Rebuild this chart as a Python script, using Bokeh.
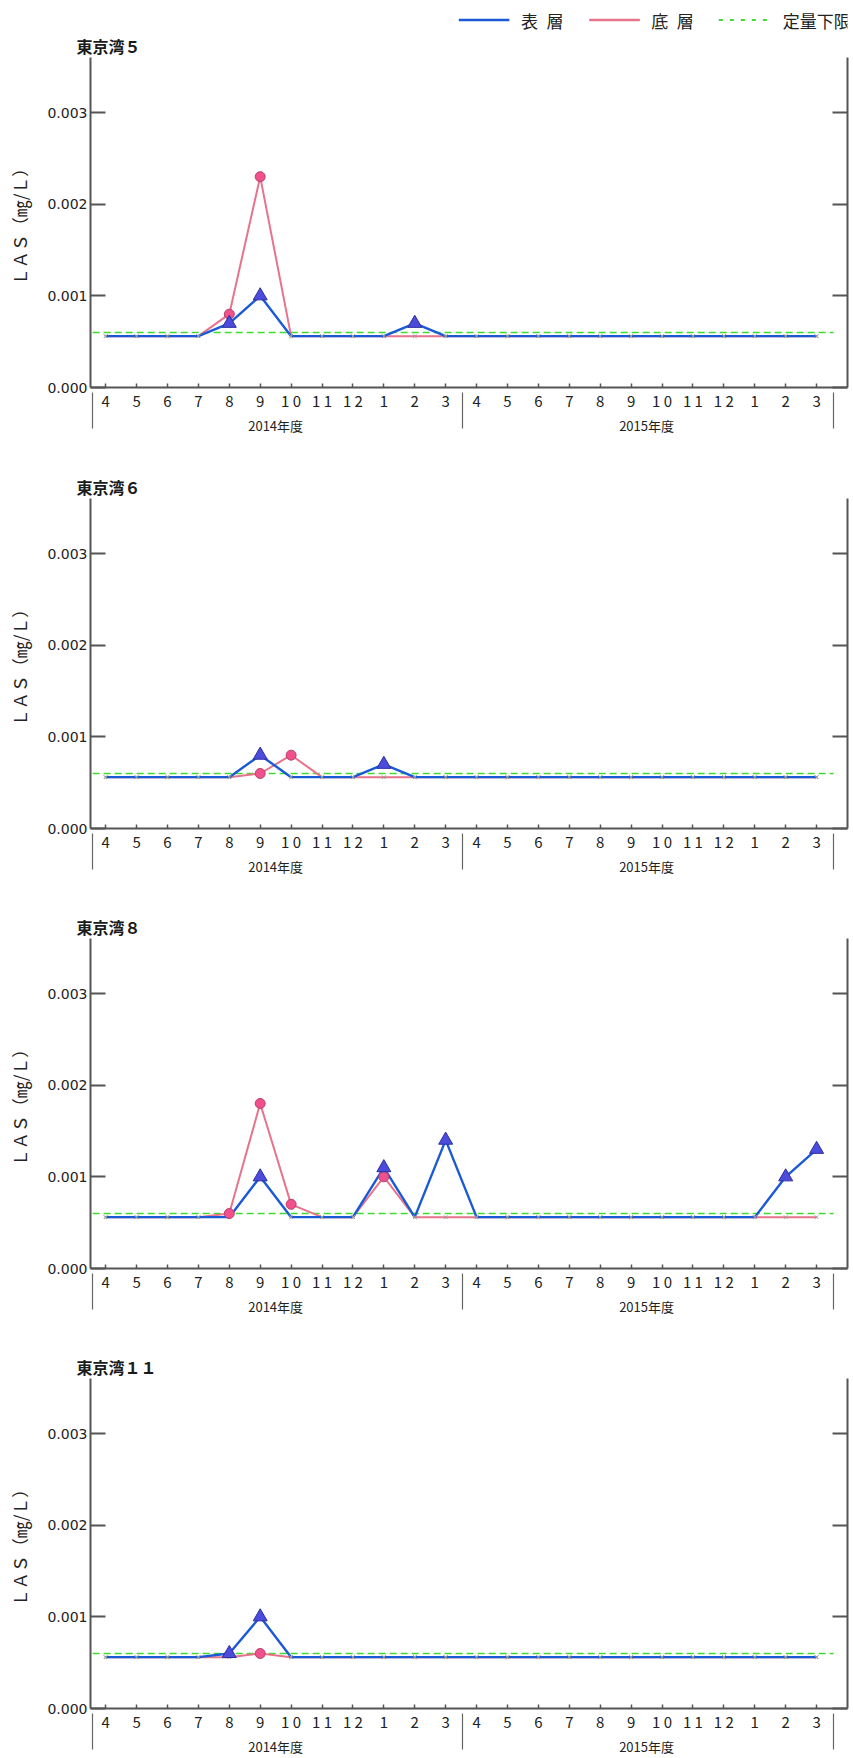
from bokeh.plotting import figure
from bokeh.layouts import column
from bokeh.models import (Range1d, LinearAxis, FixedTicker, PrintfTickFormatter)
from bokeh.core.properties import value
from bokeh.embed import file_html
from bokeh.resources import INLINE

# ---------------- data ----------------
month_labels = ["4", "5", "6", "7", "8", "9", "1 0", "1 1", "1 2", "1", "2", "3",
                "4", "5", "6", "7", "8", "9", "1 0", "1 1", "1 2", "1", "2", "3"]
year_labels = ["2014年度", "2015年度"]
stations = ["東京湾５", "東京湾６", "東京湾８", "東京湾１１"]
legend_labels = ["表\u2002層", "底\u2002層", "定量下限"]

LOQ = 0.0006          # 定量下限
ND_LEVEL = 0.00056    # plotted level of values below LOQ
N = None              # below LOQ

surface = [
    [N, N, N, N, 0.0007, 0.0010, N, N, N, N, 0.0007, N,
     N, N, N, N, N, N, N, N, N, N, N, N],
    [N, N, N, N, N, 0.0008, N, N, N, 0.0007, N, N,
     N, N, N, N, N, N, N, N, N, N, N, N],
    [N, N, N, N, N, 0.0010, N, N, N, 0.0011, N, 0.0014,
     N, N, N, N, N, N, N, N, N, N, 0.0010, 0.0013],
    [N, N, N, N, 0.0006, 0.0010, N, N, N, N, N, N,
     N, N, N, N, N, N, N, N, N, N, N, N],
]
bottom = [
    [N, N, N, N, 0.0008, 0.0023, N, N, N, N, N, N,
     N, N, N, N, N, N, N, N, N, N, N, N],
    [N, N, N, N, N, 0.0006, 0.0008, N, N, N, N, N,
     N, N, N, N, N, N, N, N, N, N, N, N],
    [N, N, N, N, 0.0006, 0.0018, 0.0007, N, N, 0.0010, N, N,
     N, N, N, N, N, N, N, N, N, N, N, N],
    [N, N, N, N, N, 0.0006, N, N, N, N, N, N,
     N, N, N, N, N, N, N, N, N, N, N, N],
]
y_ticks = [0.0, 0.001, 0.002, 0.003]

# ---------------- style ----------------
FONT = "Noto Sans CJK JP"
NUMFONT = "DejaVu Sans"
BLUE = "#1a5ad6"
PINK = "#e8738c"
GREEN = "#3ddc2e"
AXIS = "#555555"
TXT = "#222222"

x = list(range(len(month_labels)))
n_per_year = 12
group_centers = [(n_per_year - 1) / 2, n_per_year + (n_per_year - 1) / 2]
group_edges = [-0.42, n_per_year - 0.45, 2 * n_per_year - 0.45]

W = 853


def make_panel(idx, height, top_border, bottom_border):
    p = figure(width=W, height=height, x_range=Range1d(-0.49, 24.0),
               y_range=Range1d(0, 0.0036), output_backend="svg",
               toolbar_location=None, x_axis_type=None, y_axis_type=None,
               min_border_left=90, min_border_right=6, min_border_top=top_border,
               min_border_bottom=bottom_border, outline_line_color=None,
               title=stations[idx])
    p.title.text_font = FONT
    p.title.text_font_size = "16px"
    p.title.text_font_style = "bold"
    p.title.text_color = "#1a1a1a"
    p.title.offset = -14
    p.title.standoff = 0

    # left axis
    ya = LinearAxis(ticker=FixedTicker(ticks=y_ticks, minor_ticks=[]),
                    formatter=PrintfTickFormatter(format="%.3f"))
    ya.major_tick_in = 15
    ya.major_tick_out = 0
    ya.axis_line_color = AXIS
    ya.axis_line_width = 2
    ya.major_tick_line_color = AXIS
    ya.major_tick_line_width = 2
    ya.major_label_standoff = 3
    ya.major_label_text_font = NUMFONT
    ya.major_label_text_font_size = "14px"
    ya.major_label_text_color = TXT
    ya.axis_label = "ＬＡＳ（㎎/Ｌ）"
    ya.axis_label_text_font = FONT
    ya.axis_label_text_font_size = "17px"
    ya.axis_label_text_font_style = "normal"
    ya.axis_label_text_color = TXT
    ya.axis_label_standoff = 12
    p.add_layout(ya, "left")

    # right axis (ticks only)
    ra = LinearAxis(ticker=FixedTicker(ticks=y_ticks, minor_ticks=[]),
                    formatter=PrintfTickFormatter(format=""))
    ra.major_tick_in = 15
    ra.major_tick_out = 0
    ra.major_label_standoff = 0
    ra.axis_line_color = AXIS
    ra.axis_line_width = 2
    ra.major_tick_line_color = AXIS
    ra.major_tick_line_width = 2
    p.add_layout(ra, "right")

    # month axis
    xa = LinearAxis(ticker=FixedTicker(ticks=x, minor_ticks=[]),
                    major_label_overrides={i: lab for i, lab in enumerate(month_labels)})
    xa.major_tick_in = 4
    xa.major_tick_out = 0
    xa.axis_line_color = AXIS
    xa.axis_line_width = 2
    xa.major_tick_line_color = AXIS
    xa.major_tick_line_width = 1.5
    xa.major_label_standoff = 2
    xa.major_label_text_font = FONT
    xa.major_label_text_font_size = "15px"
    xa.major_label_text_color = TXT
    p.add_layout(xa, "below")

    # fiscal-year axis with separators
    ga = LinearAxis(ticker=FixedTicker(ticks=group_centers, minor_ticks=group_edges),
                    major_label_overrides={c: lab for c, lab in zip(group_centers, year_labels)})
    ga.axis_line_color = None
    ga.major_tick_in = 0
    ga.major_tick_out = 0
    ga.minor_tick_in = 21
    ga.minor_tick_out = 15
    ga.minor_tick_line_color = "#666666"
    ga.minor_tick_line_width = 1.2
    ga.major_label_standoff = -13
    ga.major_label_text_font = FONT
    ga.major_label_text_font_size = "13px"
    ga.major_label_text_color = TXT
    p.add_layout(ga, "below")

    p.xgrid.visible = False
    p.ygrid.ticker = FixedTicker(ticks=y_ticks[1:])
    p.ygrid.grid_line_color = "#a8a8a8"
    p.ygrid.grid_line_dash = "8 5"
    p.ygrid.grid_line_width = 1

    s_vals = surface[idx]
    b_vals = bottom[idx]
    ys = [ND_LEVEL if v is None else v for v in s_vals]
    yb = [ND_LEVEL if v is None else v for v in b_vals]

    # LOQ line
    p.line(x=[group_edges[0], group_edges[-1]], y=[LOQ, LOQ], line_color=GREEN,
           line_width=1.6, line_dash="7 4")
    p.line(x=x, y=yb, line_color=PINK, line_width=2)
    p.line(x=x, y=ys, line_color=BLUE, line_width=2.4)

    nd_x = [i for i, v in enumerate(s_vals) if v is None] + [i for i, v in enumerate(b_vals) if v is None]
    p.scatter(x=nd_x, y=[ND_LEVEL] * len(nd_x), marker="x", size=5,
              line_color="#9a9a9a", line_width=1)

    bx = [i for i, v in enumerate(b_vals) if v is not None]
    p.scatter(x=bx, y=[b_vals[i] for i in bx], marker="circle", size=10,
              fill_color="#f0508c", line_color="#b8406c", line_width=1)
    sx = [i for i, v in enumerate(s_vals) if v is not None]
    p.scatter(x=sx, y=[s_vals[i] for i in sx], marker="triangle", size=14,
              fill_color="#4b4bdc", line_color="#2e2ea0", line_width=1)
    return p


# legend strip (pixel coordinates)
LH = 31
lf = figure(width=W, height=LH, output_backend="svg", toolbar_location=None,
            x_axis_type=None, y_axis_type=None, min_border=0,
            outline_line_color=None, x_range=Range1d(0, W), y_range=Range1d(0, LH))
lf.xgrid.visible = False
lf.ygrid.visible = False
ly = LH - 19.5
lf.segment(x0=[415], y0=[ly], x1=[472], y1=[ly], line_color=BLUE, line_width=2.5)
lf.segment(x0=[562], y0=[ly], x1=[619], y1=[ly], line_color=PINK, line_width=2.5)
lf.segment(x0=[708], y0=[ly], x1=[767], y1=[ly], line_color=GREEN, line_width=2,
           line_dash="4 7")
lf.text(x=[485, 632, 780], y=[ly] * 3, text=legend_labels, text_font=value(FONT),
        text_font_size="17px", text_baseline="middle", text_align="left",
        text_color=TXT)

panels = [
    make_panel(0, 435, 26, 79),
    make_panel(1, 440, 32, 78),
    make_panel(2, 440, 32, 78),
    make_panel(3, 412, 32, 50),
]

layout = column([lf] + panels, spacing=0)
open("out.html", "w").write(file_html(layout, INLINE))
